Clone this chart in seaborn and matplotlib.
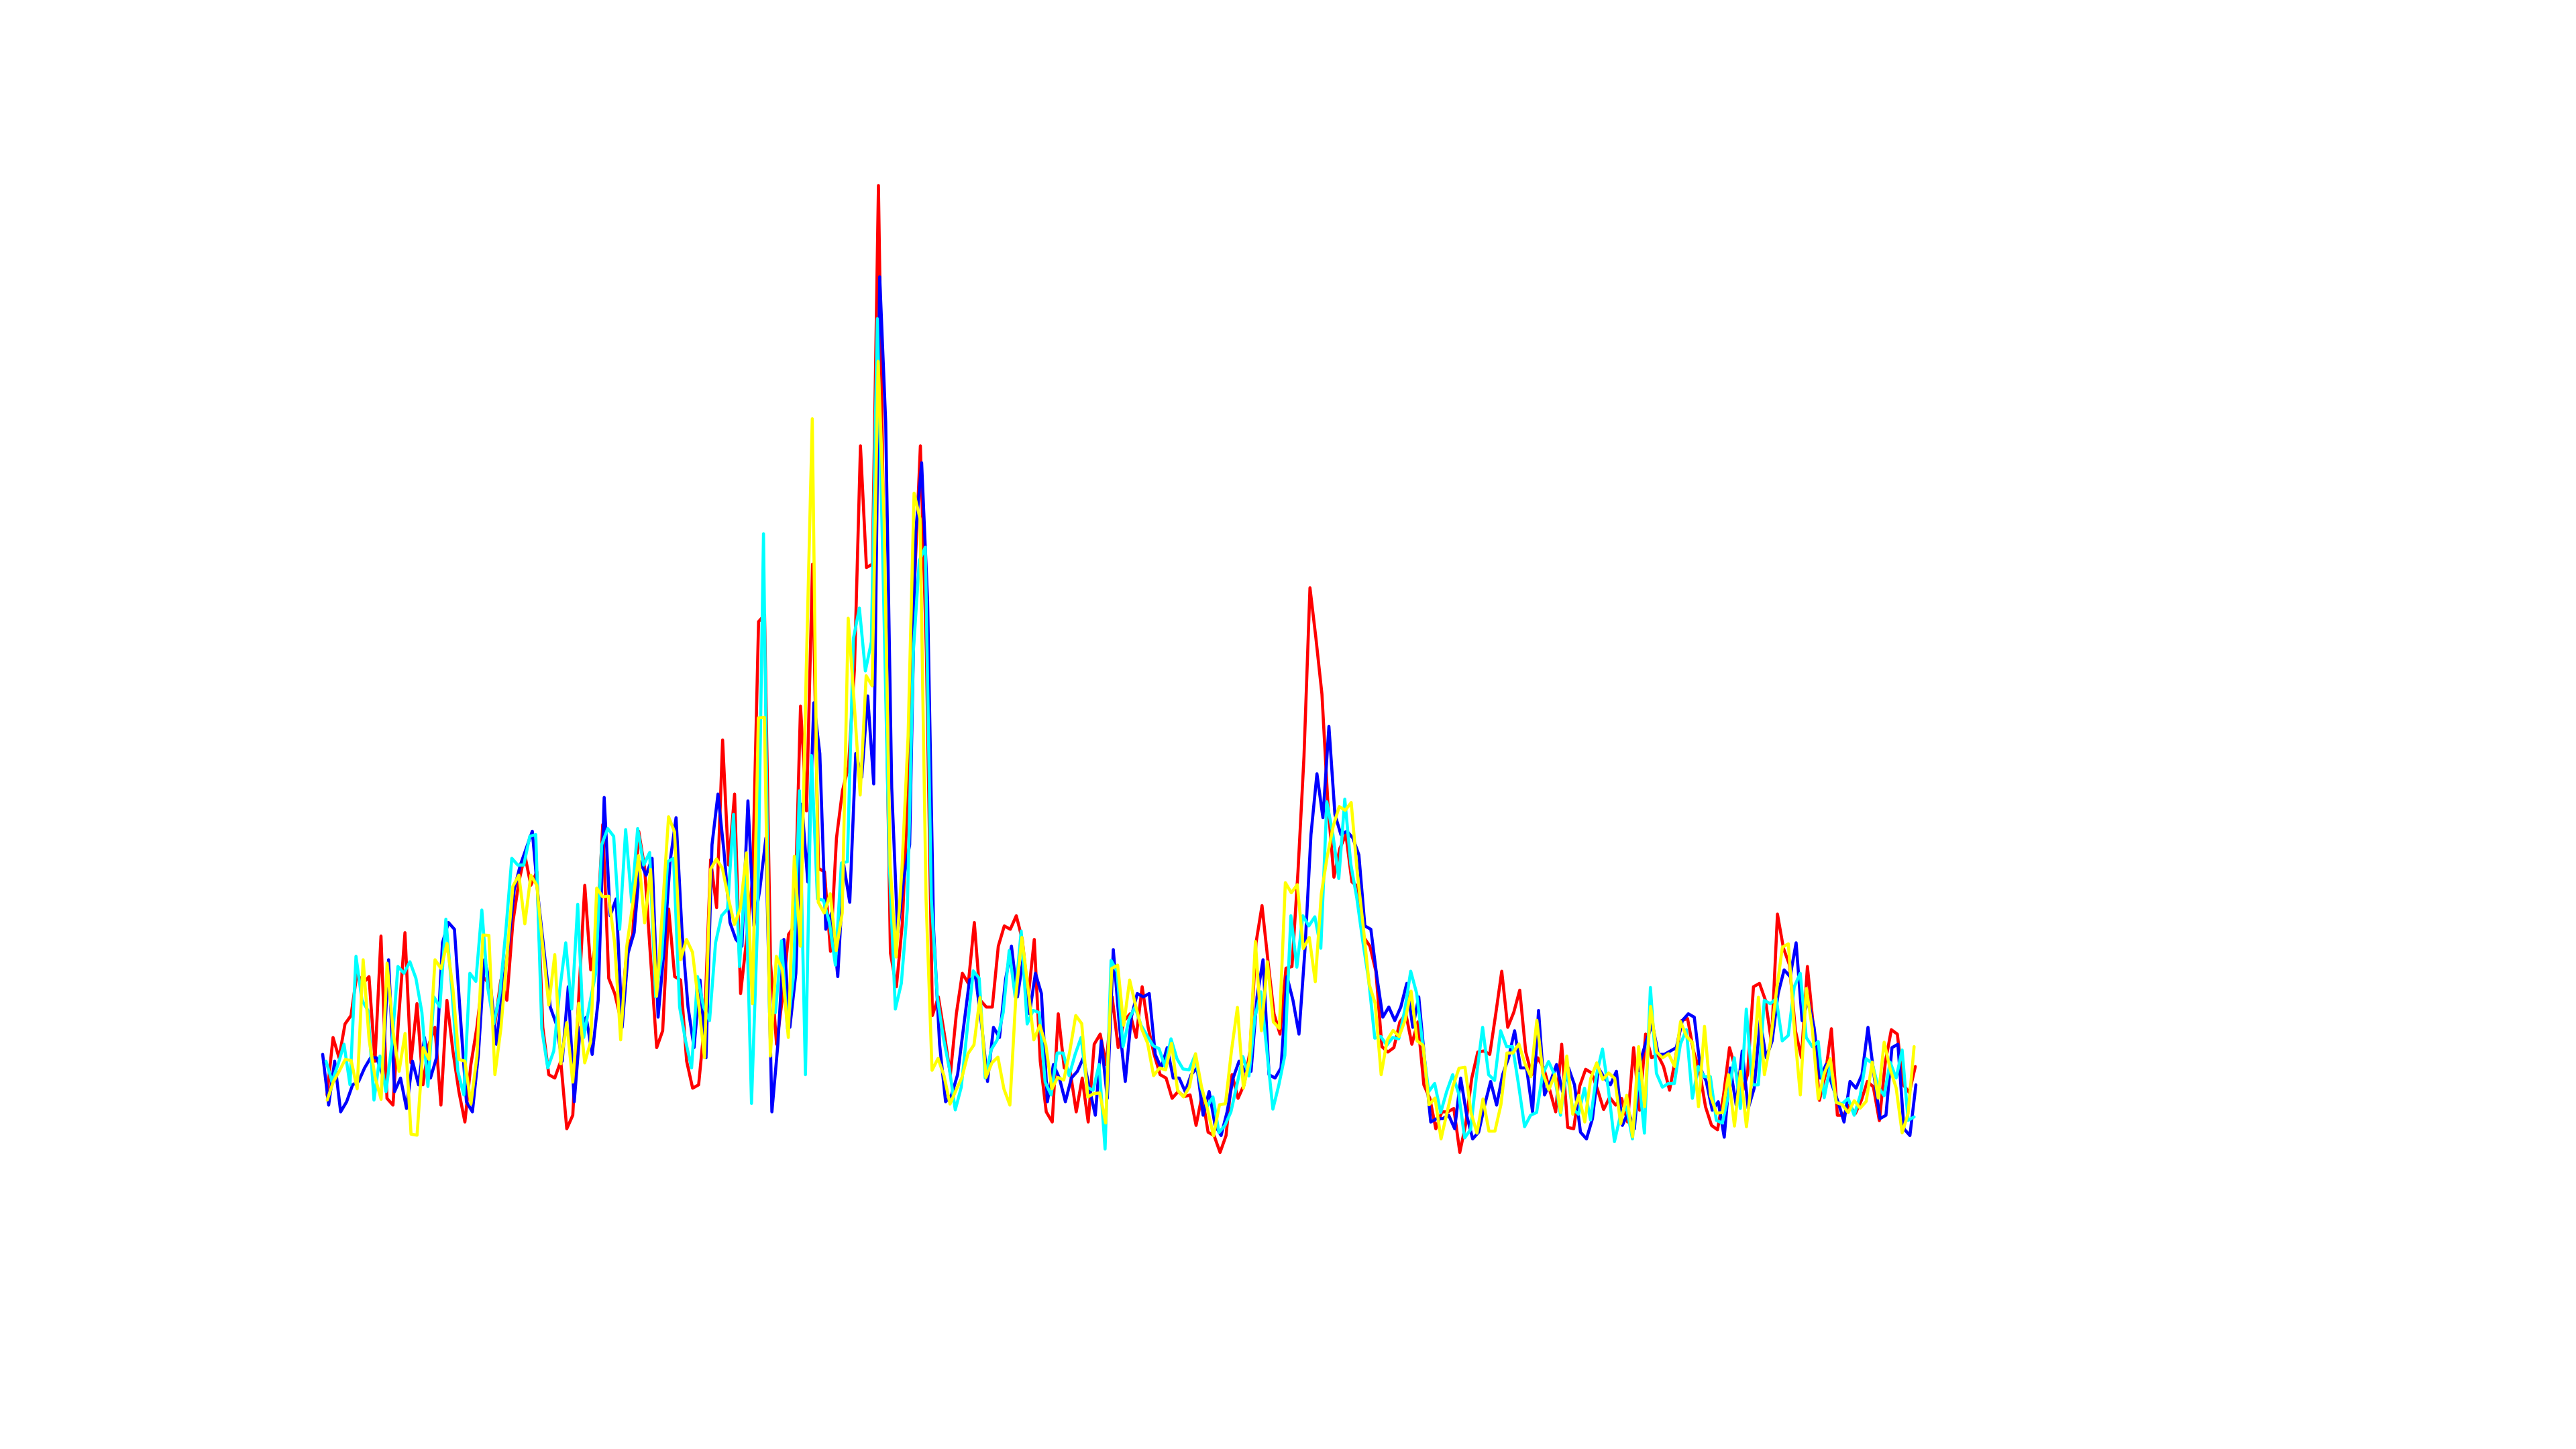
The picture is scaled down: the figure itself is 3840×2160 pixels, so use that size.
import numpy as np
import pandas as pd
import matplotlib
matplotlib.use('Agg')
import matplotlib.pyplot as plt
import seaborn as sns

# readings per series, the four traces do not share the same sampling
blue_values = [31,16,29,14,17,22,23,27,30,30,
    25,59,20,24,15,29,22,36,24,30,
    64,70,68,42,17,14,31,59,52,34,
    50,63,80,87,92,97,77,61,45,40,
    29,51,17,39,42,31,47,107,72,77,
    39,61,67,88,84,89,42,62,88,101,
    67,45,33,53,30,93,108,91,70,65,
    63,106,69,80,95,14,34,65,39,55,
    105,82,135,120,68,73,54,87,76,120,
    113,137,111,261,218,110,67,83,93,185,
    206,165,68,34,17,19,25,39,53,54,
    40,23,39,36,53,63,48,60,43,55,
    49,17,28,24,17,24,26,30,21,13,
    35,18,62,40,23,42,49,48,49,31,
    27,33,24,24,20,25,27,13,20,10,
    7,14,24,29,26,26,48,59,25,24,
    27,54,47,37,62,96,114,101,128,102,
    96,97,95,90,69,68,54,42,45,41,
    45,52,39,48,29,11,12,12,13,9,
    24,13,6,8,16,23,16,25,30,38,
    27,27,14,44,19,23,28,20,27,22,
    8,6,12,27,24,22,26,10,14,9,
    29,35,40,31,31,32,33,41,43,42,
    27,23,14.5,17,6.5,27,16,32,15,21,
    41,30,35,49,56,54,64,41,47,39,
    24,28,22,17,11,23,21,25,39,25,
    12,13,33,34,9,7,22]

red_values = [19,36,30,40,42.5,55,52,54,29,66,
    18,16,43,67,28.5,46,22,34,39,16,
    47,32,20,11,28,39,54,52,40,53,
    47,70,82,90,81,85,39,25,24,29,
    9,13,48,81,56,65,99,53.5,49,41.5,
    61,66.5,97,86,59,33,38,74,54,53,
    29,21,22,40.5,88.6,74.4,124,87,108,49,
    65,83,159,161,58,34,48,66.5,69,134,
    103,176,86,85,61.5,95,109,116,145,211,
    175,176,288,170,61,51,70,112,170,211,
    150,42.5,48,37,25,43,55,52,70,47,
    45,45,63,69,68,72,65,48,65,29,
    14,11,43,27,26,14,24,11,34,37,
    28,48,33,41,43,36,51,39,31,25,
    24,18,20,18.5,19,10,19,8,7,2,
    7,25,18,22,32,64,75,58.5,43,37,
    56.5,57,85,119,169,154,137.5,105,83.4,92,
    96,82,80.6,65.6,63,55.6,33.3,31.7,33,40.6,
    43,34,40.6,22,18,9,14,14,15,2,
    10.5,24,31.7,32,31,43,55.6,39,43.4,50,
    31.7,25,30,27,20.5,14,34,9.4,9,21.6,
    26.6,25.5,20.5,14.7,18.3,16,18,11,33,
    14.5,37,30,31,27.4,20.4,30,41,41.6,32,
    26,15.5,10,8.7,18.8,33,26.7,19,25,51,
    52,47,34.6,72.5,62.4,57.5,38,30,57,39,
    17.4,25,38.6,13,13,16,13.5,17.4,23,21.4,
    11.4,28.7,38.3,37,22,19.7,27.4]

cyan_values = [29,23,28,34,22,60,47,44,17.5,30.5,
    20,34,57,55,58.4,53.5,43.4,21.5,48,45,
    71,50,26,19,55,52.6,73.7,50.6,40,49,
    67.5,89,87,87,95.5,96,38.6,27,32,50,
    64,44.4,75.4,36,46,55,93,97.8,95.5,68,
    97.5,76,97.8,87,90.7,48,60,88,89,45,
    35,27,54,45,41,64,72,74,102,57,
    85,16.5,69.4,185,43.4,43.4,64.6,38.6,54,109,
    25,119.4,77,76.6,70,57.4,87.6,88,154,163,
    144.4,153,248.6,170,87,44.4,52,74,150,177,
    181,77,48,36,27,14.6,21.3,38.6,55.7,53.5,
    24,32.4,35.3,43.4,61.7,48,67.5,40,44,43.4,
    22.8,19,31.4,31.4,24.7,31,36,21.3,20.4,28,
    3,58.8,55.5,33.3,41.5,45,39.6,36.6,33.6,32.7,
    27.4,35.6,29.7,26.7,26.4,30.7,21.4,15.5,18.4,7.9,
    10,14,22,30.3,24.6,42,49.5,32,14.8,22,
    30.7,72,56.8,72,69,71.7,62.4,105.7,96.2,83,
    106.5,87.3,77.3,64.5,52.8,35.8,36.3,33.7,36,35.6,
    44,55.6,49,33.9,20,22.4,13.8,20,25,19.4,
    6.3,8.8,25,39,25,23.3,38,33.3,33.3,22,
    9.6,13,13.8,25,28.9,25,13,27,15,13.3,
    21,11.6,25,32.6,20.5,5.2,13,15.5,6,25.4,
    7.7,50.8,25.4,21.3,22.4,22.4,34,38.3,18,27.4,
    24.4,24.4,11.5,10.7,18.8,30,15,44.4,22,22,
    47,46,47.5,35,36.6,51,55,36,33.3,34.8,
    18.2,27.4,16.8,16.4,18,13,18.8,29.7,28.4,21.4,
    18.8,28.7,24,32.3,11.5,12.5]

yellow_values = [17.5,22.8,26,29.5,29.2,20.8,59,35.3,24.2,17.7,
    58,37.7,26,37.2,7.4,7.1,33,29.5,59,56.4,
    63.8,50.2,29.5,29,16.3,30.5,66.3,66.2,25,38.6,
    59.8,80.7,84,69.6,84,81,62.7,45.6,60.5,28.2,
    40.4,22.8,46.1,28.5,34.8,80.2,77.6,77.8,63.8,35.3,
    62.7,75.2,89.8,69.9,85.7,48.2,74.2,101.3,96.8,59,
    65,61.2,46.3,30,85.7,88.8,86,77.1,69.4,74.2,
    90.6,46,130.5,130.7,30.5,60,56,36,89.6,63,
    145,219,76,72.8,78.5,61.7,72.8,160,135,107.7,
    143,140,236,189,87,59.8,86.7,125,197,189.4,
    77,26.3,29.8,24.7,16.3,20.4,24.2,31.2,33.8,47.8,
    24.2,28.5,30.2,20.8,16,48.2,65.6,51.1,35.3,39.6,
    33.8,20.8,24.2,23.4,31.9,42.5,40.1,18.4,19.4,19.6,
    10.7,56.4,57.4,39.6,53,45.4,38.6,34.3,24.7,27,
    26.4,34.3,20.4,18.4,21.4,31.2,21.4,14.8,6.9,16.1,
    16.4,32,44.9,21,29.3,64.4,38,58.4,40.6,38.7,
    81.8,78.8,81.2,62.3,65.6,52.5,78.4,89.6,98.5,104.3,
    103.2,105.5,85,69,51.7,46.1,25,35.2,38.1,36.3,
    41.1,49.7,35,33.7,16.1,18.1,6,13.8,21.6,26.9,
    27.2,13.8,7.7,17.8,8.3,8.3,16.1,31.4,31.4,34.1,
    28.3,24.4,41.1,25.5,20.5,25,13.8,30.5,13.3,18.9,
    11,23.9,28.5,23.6,25.5,23.9,10.5,18.9,6.6,33.3,
    15.5,45.2,31.7,30,31.2,27.4,40.7,36.3,34.5,15.5,
    39.3,18.8,13.6,13.8,25,9.8,26,9.6,25.4,47.9,
    25,34.6,49.5,62.7,63.7,38.6,19,50.5,38.6,17.8,
    25.4,29.7,16.8,16.1,13.8,17.3,15.1,17.1,28.7,18.1,
    34.6,26.7,21.1,7.8,13.5,33.3]

series_names = ['red', 'blue', 'cyan', 'yellow']
series_values = [red_values, blue_values, cyan_values, yellow_values]
series_first = [0.73, 0.0, 0.56, 0.76]
series_last = [265.9, 266.0, 265.7, 265.7]
palette = {'red': '#ff0000', 'blue': '#0000ff', 'cyan': '#00ffff', 'yellow': '#ffff00'}

frames = []
for name, values, first, last in zip(series_names, series_values, series_first, series_last):
    print(name, len(values))
    frames.append(pd.DataFrame({
        'channel': name,
        'sample': np.linspace(first, last, len(values)),
        'value': values,
    }))
df = pd.concat(frames, ignore_index=True)

sns.set_theme(style='white')
fig = plt.figure(figsize=(12.8, 7.2), dpi=300, facecolor='white')
ax = fig.add_axes([481 / 3840, 1 - 1728 / 2160, (2856 - 481) / 3840, (1728 - 216) / 2160])

sns.lineplot(data=df, x='sample', y='value', hue='channel', hue_order=series_names,
             palette=palette, estimator=None, sort=False, linewidth=1.1, legend=False, ax=ax)
for line in ax.get_lines():
    line.set_clip_on(False)

ax.set_xlim(0, 266)
ax.set_ylim(0, 300)
ax.set_yticks(np.arange(0, 301, 50))
ax.set_xticks([])
ax.set_xlabel('')
ax.set_ylabel('')
ax.tick_params(left=False, labelleft=False, bottom=False, labelbottom=False)

# white grid on a white background, under the traces
ax.set_axisbelow(True)
ax.grid(axis='y', color='white', linewidth=0.3)
sns.despine(ax=ax, left=True, bottom=True)

fig.savefig('out.png', dpi=300, facecolor='white')
